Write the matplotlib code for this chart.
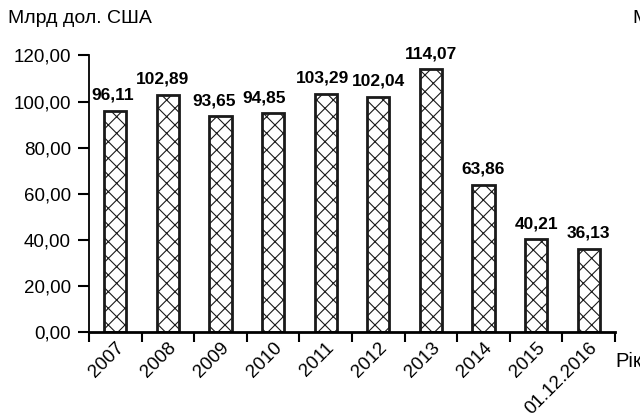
import matplotlib
matplotlib.use("Agg")
import matplotlib.pyplot as plt
from matplotlib.ticker import MultipleLocator, FuncFormatter

# Дані
roky = ["2007", "2008", "2009", "2010", "2011", "2012", "2013", "2014", "2015", "01.12.2016"]
znachennia = [96.11, 102.89, 93.65, 94.85, 103.29, 102.04, 114.07, 63.86, 40.21, 36.13]
# невеликі зсуви підписів, щоб не налазили один на одного
zsuv = [-0.05, -0.1, -0.13, -0.17, -0.06, 0.0, 0.0, 0.0, 0.0, 0.0]

plt.rcParams["font.family"] = ["Liberation Sans", "DejaVu Sans"]
plt.rcParams["hatch.linewidth"] = 0.8

fig = plt.figure(figsize=(6.4, 4.19), dpi=100)
ax = fig.add_axes([0.139, 0.2076, 0.822, 0.66])

x = range(len(roky))
ax.bar(x, znachennia, width=0.42, color="white", edgecolor="#1a1a1a",
       linewidth=2, hatch="xx")

for xi, v, dx in zip(x, znachennia, zsuv):
    ax.text(xi + dx, v + 3.5, f"{v:.2f}".replace(".", ","), ha="center", va="bottom",
            fontsize=12.5, fontweight="bold")

ax.set_xlim(-0.5, len(roky) - 0.5)
ax.set_ylim(0, 120)
ax.yaxis.set_major_locator(MultipleLocator(20))
ax.yaxis.set_major_formatter(FuncFormatter(lambda v, p: f"{v:.2f}".replace(".", ",")))
ax.set_xticks([i - 0.5 for i in range(len(roky) + 1)])
ax.set_xticklabels([])
ax.set_xticks(list(x), minor=True)
ax.set_xticklabels(roky, minor=True, rotation=45, ha="right", rotation_mode="anchor")
ax.tick_params(axis="x", which="minor", length=0, pad=5, labelsize=13.5)
ax.tick_params(axis="x", which="major", length=7, width=1.5, direction="out")
ax.tick_params(axis="y", length=8, width=1.5, labelsize=13.5, direction="out", pad=5)

for s in ["top", "right"]:
    ax.spines[s].set_visible(False)
ax.spines["left"].set_linewidth(1.3)
ax.spines["bottom"].set_linewidth(2)

fig.text(0.012, 0.957, "Млрд дол. США", fontsize=14, va="center", ha="left")
fig.text(0.988, 0.957, "М", fontsize=14, va="center", ha="left")
fig.text(0.962, 0.138, "Рік", fontsize=14.5, va="center", ha="left")

fig.savefig("out.png", dpi=100)
